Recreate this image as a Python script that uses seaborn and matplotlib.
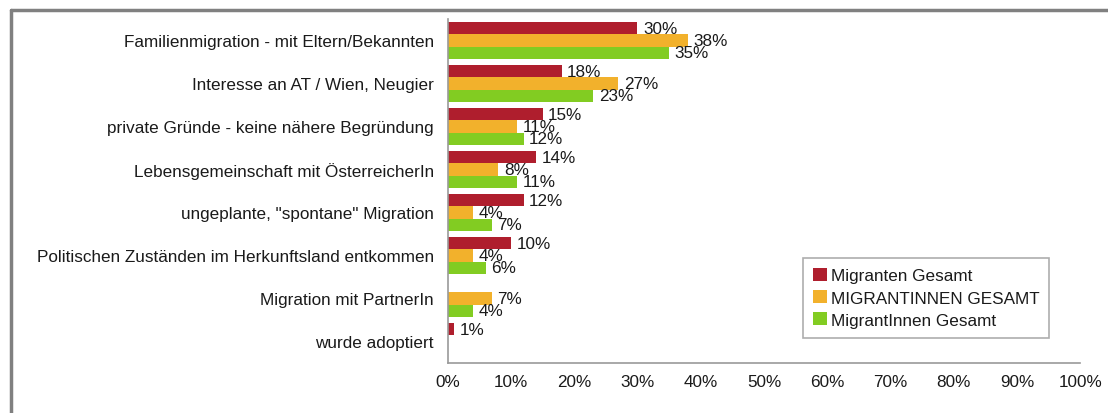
import numpy as np
import pandas as pd
import matplotlib
matplotlib.use("Agg")
import matplotlib.pyplot as plt
from matplotlib.lines import Line2D
import seaborn as sns

# data
categories = [
    "Familienmigration - mit Eltern/Bekannten",
    "Interesse an AT / Wien, Neugier",
    "private Gründe - keine nähere Begründung",
    "Lebensgemeinschaft mit ÖsterreicherIn",
    "ungeplante, \"spontane\" Migration",
    "Politischen Zuständen im Herkunftsland entkommen",
    "Migration mit PartnerIn",
    "wurde adoptiert",
]
migranten = [30, 18, 15, 14, 12, 10, np.nan, 1]
migrantinnen_caps = [38, 27, 11, 8, 4, 4, 7, np.nan]
migrantinnen = [35, 23, 12, 11, 7, 6, 4, np.nan]
series_names = ["Migranten Gesamt", "MIGRANTINNEN GESAMT", "MigrantInnen Gesamt"]
colors = ["#AF1E2D", "#F2B12C", "#82CC22"]
x_ticks = list(range(0, 101, 10))

rows = []
for name, vals in zip(series_names, [migranten, migrantinnen_caps, migrantinnen]):
    for cat, v in zip(categories, vals):
        if not np.isnan(v):
            rows.append({"Grund": cat, "Gruppe": name, "Wert": v})
df = pd.DataFrame(rows)

sns.set_style("white")
plt.rcParams["font.family"] = ["Liberation Sans", "DejaVu Sans"]
fs = 12.3
txt = "#1a1a1a"

fig = plt.figure(figsize=(11.08, 4.14), dpi=100)
ax = fig.add_axes([0.404, 0.121, 0.571, 0.831])

sns.barplot(data=df, y="Grund", x="Wert", hue="Gruppe", order=categories,
            hue_order=series_names, palette=colors, orient="h", width=0.86,
            saturation=1, linewidth=0, ax=ax)

for cont in ax.containers:
    ax.bar_label(cont, fmt="%d%%", padding=4, fontsize=fs, color=txt)

ax.set_xlim(0, 100)
ax.set_ylim(len(categories) - 0.5, -0.5)
ax.set_xticks(x_ticks)
ax.set_xticklabels([f"{t}%" for t in x_ticks], fontsize=fs, color=txt)
ax.set_yticks(np.arange(len(categories)))
ax.set_yticklabels(categories, fontsize=fs, color=txt)
ax.set_yticks(np.arange(len(categories) + 1) - 0.5, minor=True)
ax.tick_params(axis="y", which="major", length=0, pad=10)
ax.tick_params(axis="y", which="minor", length=5, color="#999999", direction="out")
ax.tick_params(axis="x", length=5, color="#999999", direction="out", pad=3)
ax.set_xlabel("")
ax.set_ylabel("")
for s in ["top", "right"]:
    ax.spines[s].set_visible(False)
for s in ["left", "bottom"]:
    ax.spines[s].set_color("#999999")
    ax.spines[s].set_linewidth(1.2)

leg = ax.legend(loc="lower left", bbox_to_anchor=(0.562, 0.072), frameon=True,
                fancybox=False, handlelength=0.8, handleheight=0.8,
                handletextpad=0.2, labelspacing=0.4, borderpad=0.6,
                fontsize=fs, borderaxespad=0)
leg.get_frame().set_edgecolor("#999999")
leg.get_frame().set_linewidth(1.2)
for t in leg.get_texts():
    t.set_color(txt)

# outer grey frame (only top and left edges are visible in the crop)
fig.add_artist(Line2D([10.5 / 1108, 1.0], [1 - 10.5 / 414] * 2,
                      transform=fig.transFigure, color="#808080", lw=2.5))
fig.add_artist(Line2D([10.5 / 1108] * 2, [0, 1 - 10.5 / 414],
                      transform=fig.transFigure, color="#808080", lw=2.5))

fig.savefig("out.png", dpi=100)
